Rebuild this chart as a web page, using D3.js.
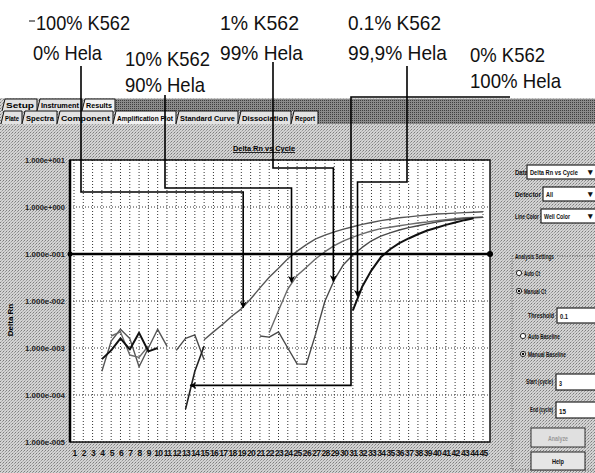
<!DOCTYPE html>
<html>
<head>
<meta charset="utf-8">
<script src="https://cdn.jsdelivr.net/npm/d3@7/dist/d3.min.js"></script>
<style>
  html, body { margin: 0; padding: 0; background: #fff; }
  svg { display: block; font-family: "Liberation Sans", Arial, sans-serif; }
</style>
</head>
<body>
<svg id="chart" width="595" height="473"></svg>
<script>
// ---- data ----
const cycles = [1,2,3,4,5,6,7,8,9,10,11,12,13,14,15,16,17,18,19,20,21,22,23,24,25,26,27,28,29,30,31,32,33,34,35,36,37,38,39,40,41,42,43,44,45];
const yTicks = [1e1, 1e0, 1e-1, 1e-2, 1e-3, 1e-4, 1e-5];
const threshold = 0.1;

// Delta Rn per cycle, null = not drawn (below zero / not plotted)
const k562_100 = [null,null,null,3.2e-4,1.4e-3,2.5e-3,1.6e-3,4.0e-4,1.0e-3,2.5e-3,1.1e-3,null,null,null,
  1.5e-3,2.2e-3,3.2e-3,4.8e-3,6.8e-3,0.011,0.019,0.032,0.050,0.079,0.115,0.158,0.209,0.251,0.295,0.339,
  0.380,0.427,0.468,0.513,0.550,0.589,0.617,0.646,0.676,0.708,0.724,0.741,0.759,0.776,0.794];
const k562_10 = [null,null,null,null,1.8e-3,2.2e-3,7.1e-4,6.3e-4,1.1e-3,null,null,null,null,null,null,null,null,null,null,null,null,
  2.1e-3,6.3e-3,0.018,0.035,0.052,0.079,0.112,0.151,0.191,0.229,0.269,0.309,0.347,0.372,0.398,0.427,0.457,0.479,0.513,0.537,0.562,0.589,0.603,0.617];
const k562_1 = [null,null,null,null,null,null,null,null,null,null,null,8.9e-4,1.6e-3,1.9e-3,5.6e-4,null,null,null,null,null,
  1.8e-3,1.7e-3,2.2e-3,1.0e-3,4.6e-4,4.5e-4,2.0e-3,0.010,0.028,0.060,0.095,0.138,0.191,0.240,0.282,0.324,0.363,0.398,0.437,0.479,0.513,0.537,0.562,0.589,0.603];
const k562_01 = [null,null,null,5.8e-4,8.9e-4,1.6e-3,9.3e-4,2.1e-3,8.5e-4,1.0e-3,null,null,null,null,null,null,null,null,null,null,null,null,null,null,null,null,null,null,null,null,
  6.3e-3,0.020,0.045,0.085,0.126,0.170,0.214,0.263,0.316,0.363,0.417,0.468,0.525,0.575,null];
const k562_0 = [null,null,null,null,null,null,null,null,null,null,null,null,5.0e-5,3.2e-4,1.1e-3,null,null,null,null,null,null,null,null,null,null,null,null,null,null,null,
  null,null,null,null,null,null,null,null,null,null,null,null,null,null,null];

const labels = [["100% K562", "0% Hela"], ["10% K562", "90% Hela"], ["1% K562", "99% Hela"], ["0.1% K562", "99,9% Hela"], ["0% K562", "100% Hela"]];
// where each arrow lands: [cycle, Delta Rn]
const arrowTargets = [[19.2, 7.2e-3], [24.4, 0.025], [28.9, 0.026], [31.5, 0.0126], [13.5, 1.6e-4]];

const svg = d3.select("#chart");
const defs = svg.append("defs");

// halftone look of the scan
const ht = defs.append("pattern").attr("id", "ht").attr("width", 3).attr("height", 3).attr("patternUnits", "userSpaceOnUse");
ht.append("rect").attr("width", 3).attr("height", 3).attr("fill", "#d3d3d3");
ht.append("rect").attr("width", 1).attr("height", 1).attr("fill", "#7c7c7c");
ht.append("rect").attr("x", 2).attr("y", 1).attr("width", 1).attr("height", 1).attr("fill", "#9a9a9a");
ht.append("rect").attr("x", 1).attr("y", 2).attr("width", 1).attr("height", 1).attr("fill", "#b4b4b4");
const dk = defs.append("pattern").attr("id", "dk").attr("width", 2).attr("height", 2).attr("patternUnits", "userSpaceOnUse");
dk.append("rect").attr("width", 2).attr("height", 2).attr("fill", "#8a8a8a");
dk.append("rect").attr("width", 1).attr("height", 1).attr("fill", "#3e3e3e");

defs.append("marker").attr("id", "arr").attr("viewBox", "0 0 10 10")
  .attr("refX", 9).attr("refY", 5).attr("markerWidth", 7).attr("markerHeight", 7)
  .attr("markerUnits", "userSpaceOnUse").attr("orient", "auto")
  .append("path").attr("d", "M0,0 L10,5 L0,10 L3,5 Z").attr("fill", "#000");

svg.append("rect").attr("width", 595).attr("height", 473).attr("fill", "#fff");
svg.append("rect").attr("y", 98).attr("width", 595).attr("height", 375).attr("fill", "url(#ht)");

// squeezed text: scale horizontally so the string is `len` pixels wide
function squeeze(sel, x0, y0, len) {
  const w = sel.node().getComputedTextLength();
  const sx = len && w ? len / w : 1;
  return sel.attr("transform", `translate(${x0},${y0}) scale(${sx},1)`);
}

// ---- tab strips ----
function tabs(list, ty0, h, active, endX) {
  svg.append("rect").attr("x", endX).attr("y", ty0).attr("width", 595 - endX).attr("height", h).attr("fill", "url(#dk)");
  list.forEach(t => {
    const g = svg.append("g");
    g.append("path")
      .attr("d", `M${t[1]},${ty0 + h} L${t[1] + 3},${ty0} L${t[2]},${ty0} L${t[2]},${ty0 + h}`)
      .attr("fill", t[0] === active ? "#f2f2f2" : "#e2e2e2").attr("stroke", "#111").attr("stroke-width", 1);
    const label = g.append("text").attr("font-size", 7.5).attr("font-weight", "bold").text(t[0]);
    squeeze(label, t[1] + 4, ty0 + h - 3, t[2] - t[1] - 7);
  });
}
tabs([["Setup", 2, 37], ["Instrument", 37, 82], ["Results", 82, 115]], 99, 12, "Results", 115);
tabs([["Plate", 1, 22], ["Spectra", 22, 57], ["Component", 57, 113], ["Amplification Plot", 113, 176],
      ["Standard Curve", 176, 238], ["Dissociation", 238, 291], ["Report", 291, 318]], 111, 13, "Amplification Plot", 318);

// ---- plot ----
const pLeft = 70, pRight = 490, pTop = 160, pBottom = 442;
const x = d3.scaleLinear().domain([1, 45]).range([74, 483]);
const y = d3.scaleLog().domain([1e-5, 10]).range([pBottom, pTop]);

svg.append("rect").attr("x", pLeft).attr("y", pTop).attr("width", pRight - pLeft).attr("height", pBottom - pTop).attr("fill", "#fff");

// dotted grid
svg.append("g").selectAll("line").data(cycles).enter().append("line")
  .attr("x1", d => x(d)).attr("x2", d => x(d)).attr("y1", pTop).attr("y2", pBottom)
  .attr("stroke", "#333").attr("stroke-width", 1).attr("stroke-dasharray", "1,2");
svg.append("g").selectAll("line").data(yTicks).enter().append("line")
  .attr("x1", pLeft).attr("x2", pRight).attr("y1", d => y(d)).attr("y2", d => y(d))
  .attr("stroke", "#333").attr("stroke-width", 1).attr("stroke-dasharray", "1,2");

const fmt = v => {
  const e = Math.round(Math.log10(v));
  return "1.000e" + (e < 0 ? "-" : "+") + String(Math.abs(e)).padStart(3, "0");
};
const yAxis = svg.append("g").attr("transform", `translate(${pLeft},0)`)
  .call(d3.axisLeft(y).tickValues(yTicks).tickFormat(fmt).tickSize(0).tickPadding(5));
yAxis.select(".domain").remove();
yAxis.selectAll("text").attr("font-size", 8).attr("font-weight", "bold").attr("fill", "#222").attr("font-family", "Liberation Sans, Arial")
  .attr("textLength", 40).attr("lengthAdjust", "spacingAndGlyphs");

const xAxis = svg.append("g").attr("transform", `translate(0,${pBottom})`)
  .call(d3.axisBottom(x).tickValues(cycles).tickFormat(d3.format("d")).tickSize(0).tickPadding(8));
xAxis.select(".domain").remove();
xAxis.selectAll("text").attr("font-size", 8.5).attr("font-weight", "bold").attr("fill", "#111")
  .attr("font-family", "Liberation Sans, Arial").attr("letter-spacing", "-0.7");

svg.append("text").attr("transform", "translate(13,320) rotate(-90)").attr("text-anchor", "middle")
  .attr("font-size", 8).attr("font-weight", "bold").text("Delta Rn");

svg.append("text").attr("x", 264).attr("y", 151).attr("text-anchor", "middle")
  .attr("font-size", 8).attr("font-weight", "bold").attr("text-decoration", "underline")
  .attr("textLength", 62).attr("lengthAdjust", "spacingAndGlyphs").text("Delta Rn vs Cycle");

// curves
const series = [
  { values: k562_100, color: "#555", width: 1.4 },
  { values: k562_10, color: "#6a6a6a", width: 1.4 },
  { values: k562_1, color: "#4a4a4a", width: 1.4 },
  { values: k562_01, color: "#111", width: 2 },
  { values: k562_0, color: "#222", width: 1.6 }
];
const line = d3.line()
  .defined(d => d.v != null)
  .x(d => x(d.c))
  .y(d => y(d.v));
series.forEach(s => {
  svg.append("path")
    .datum(cycles.map((c, i) => ({ c: c, v: s.values[i] })))
    .attr("fill", "none")
    .attr("stroke", s.color)
    .attr("stroke-width", s.width)
    .attr("stroke-linejoin", "round")
    .attr("d", line);
});

// plot frame + threshold
svg.append("rect").attr("x", pLeft).attr("y", pTop).attr("width", pRight - pLeft).attr("height", pBottom - pTop)
  .attr("fill", "none").attr("stroke", "#111").attr("stroke-width", 1.5);
svg.append("line").attr("x1", pLeft).attr("x2", pLeft).attr("y1", pTop).attr("y2", pBottom).attr("stroke", "#000").attr("stroke-width", 2.5);
svg.append("line").attr("x1", pLeft).attr("x2", pRight).attr("y1", y(threshold)).attr("y2", y(threshold))
  .attr("stroke", "#000").attr("stroke-width", 2.5);
svg.append("circle").attr("cx", pRight).attr("cy", y(threshold)).attr("r", 3).attr("fill", "#000");
svg.append("circle").attr("cx", pLeft).attr("cy", y(threshold)).attr("r", 2.5).attr("fill", "#000");

// ---- annotation labels and connectors ----
const labelPos = [[36, 30, 94, 33, 60, 69], [125, 66, 85, 125, 92, 80], [220, 30, 79, 220, 60, 83],
                  [348, 30, 93, 348, 60, 99], [470, 62, 75, 470, 88, 91]];
labels.forEach((l, i) => {
  const p = labelPos[i];
  [0, 1].forEach(k => {
    svg.append("text").attr("x", p[k * 3]).attr("y", p[k * 3 + 1]).attr("font-size", 21)
      .attr("textLength", p[k * 3 + 2]).attr("lengthAdjust", "spacingAndGlyphs").attr("fill", "#111").text(l[k]);
  });
});
svg.append("line").attr("x1", 29).attr("x2", 35).attr("y1", 21).attr("y2", 21).attr("stroke", "#333").attr("stroke-width", 1.2);

const tx = arrowTargets.map(t => x(t[0]));
const ty = arrowTargets.map(t => y(t[1]));
const routes = [
  `M81,66 V192 H${tx[0]} V${ty[0]}`,
  `M165,95 V188 H${tx[1]} V${ty[1]}`,
  `M273,62 V168 H${tx[2]} V${ty[2]}`,
  `M407,66 V182 H${tx[3]} V${ty[3]}`,
  `M510,97 H351 V${ty[4]} H${tx[4]}`
];
routes.forEach(r => {
  svg.append("path").attr("d", r).attr("fill", "none").attr("stroke", "#000")
    .attr("stroke-width", 1.6).attr("marker-end", "url(#arr)");
});

// ---- right-hand settings panel ----
function txt(x0, y0, s, len, opt = {}) {
  const t = svg.append("text").attr("font-size", opt.size || 6.8)
    .attr("font-weight", "bold").attr("text-anchor", opt.anchor || "start").attr("fill", opt.fill || "#111").text(s);
  return squeeze(t, x0, y0, len);
}
function box(x0, y0, w, h, s, len, drop) {
  svg.append("rect").attr("x", x0).attr("y", y0).attr("width", w).attr("height", h)
    .attr("fill", "#fff").attr("stroke", "#222").attr("stroke-width", 1.2);
  txt(x0 + 3, y0 + h - 4, s, len);
  if (drop) txt(590, y0 + h - 4, "▾", null, { size: 9, anchor: "middle" });
}
txt(515, 175, "Data", 13); box(527, 165, 72, 14, "Delta Rn vs Cycle", 48, true);
txt(515, 197, "Detector", 26); box(543, 187, 56, 14, "All", 7, true);
txt(515, 219, "Line Color", 24); box(541, 209, 58, 14, "Well Color", 26, true);

svg.append("rect").attr("x", 512).attr("y", 256).attr("width", 90).attr("height", 214)
  .attr("fill", "none").attr("stroke", "#555").attr("stroke-dasharray", "1,1.5");
svg.append("rect").attr("x", 514).attr("y", 252).attr("width", 42).attr("height", 8).attr("fill", "url(#ht)");
txt(515, 259, "Analysis Settings", 39);
[[519, 276, "Auto Ct", false, 16], [519, 294, "Manual Ct", true, 22], [523, 339, "Auto Baseline", false, 32], [523, 357, "Manual Baseline", true, 38]]
  .forEach(r => {
    svg.append("circle").attr("cx", r[0]).attr("cy", r[1] - 3).attr("r", 2.6).attr("fill", "#fff").attr("stroke", "#222");
    if (r[3]) svg.append("circle").attr("cx", r[0]).attr("cy", r[1] - 3).attr("r", 1.2).attr("fill", "#000");
    txt(r[0] + 5, r[1], r[2], r[4]);
  });
txt(554, 318, "Threshold", 26, { anchor: "end" }); box(557, 308, 40, 15, "0.1", 8);
txt(553, 384, "Start (cycle)", 27, { anchor: "end" }); box(556, 374, 41, 16, "3", 3);
txt(553, 412, "End (cycle)", 23, { anchor: "end" }); box(556, 402, 41, 16, "15", 7);
svg.append("rect").attr("x", 531).attr("y", 428).attr("width", 54).attr("height", 19).attr("fill", "#e0e0e0").attr("stroke", "#333");
txt(558, 441, "Analyze", 20, { anchor: "middle", fill: "#999" });
svg.append("rect").attr("x", 531).attr("y", 452).attr("width", 54).attr("height", 18).attr("fill", "#e6e6e6").attr("stroke", "#222");
txt(558, 464, "Help", 12, { anchor: "middle" });
</script>
</body>
</html>
